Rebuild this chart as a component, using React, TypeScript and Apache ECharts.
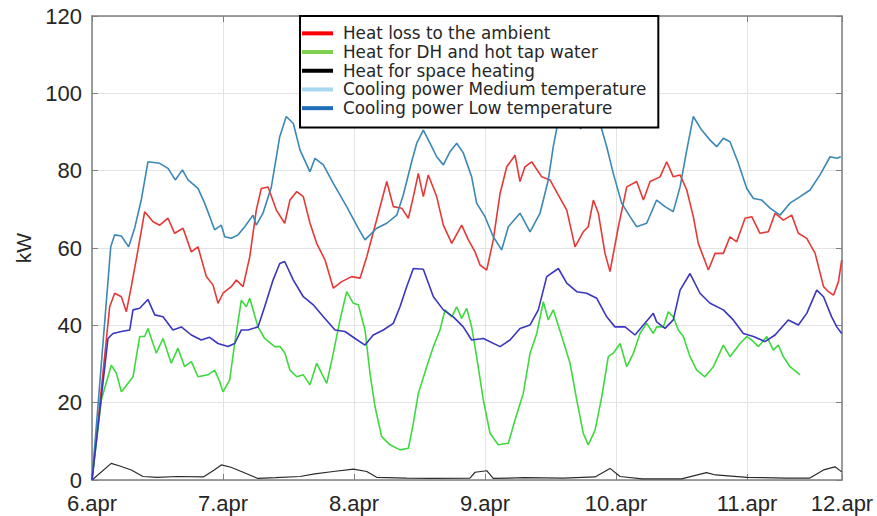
import React, { useEffect, useRef } from "react";
import * as echarts from "echarts";

// x values are days after 6.apr, y values in kW
const dayLabels = ["6.apr", "7.apr", "8.apr", "9.apr", "10.apr", "11.apr", "12.apr"];
const yTicks = { min: 0, max: 120, interval: 20 };
const xMax = 5.725;

const seriesNames = [
  "Heat loss to the ambient",
  "Heat for DH and hot tap water",
  "Heat for space heating",
  "Cooling power Medium temperature",
  "Cooling power Low temperature",
];

const heatLoss: [number, number][] = [
  [0, 0], [0.135, 44.8], [0.173, 48.3], [0.224, 47.4], [0.262, 43.5], [0.3, 50], [0.351, 59.5], [0.402, 69.4],
  [0.466, 66.8], [0.517, 65.9], [0.58, 67.7], [0.631, 63.8], [0.695, 65.1], [0.758, 59], [0.809, 60.3],
  [0.873, 52.6], [0.924, 50.4], [0.962, 45.7], [1.0, 48.3], [1.063, 50], [1.102, 51.7], [1.153, 50],
  [1.204, 57.7], [1.254, 69.8], [1.292, 75.4], [1.344, 75.8], [1.407, 69.8], [1.471, 66.4], [1.511, 72.4],
  [1.563, 74.6], [1.613, 73.3], [1.664, 66.4], [1.715, 61.2], [1.779, 56.9], [1.842, 49.6], [1.906, 51.3],
  [1.982, 52.6], [2.046, 52.2], [2.097, 57.7], [2.186, 69], [2.25, 77.2], [2.3, 70.7], [2.364, 70.3],
  [2.415, 67.7], [2.453, 73.3], [2.491, 79.3], [2.529, 73.3], [2.567, 78.9], [2.631, 73.3], [2.682, 65.9],
  [2.746, 61.2], [2.822, 65.9], [2.873, 62.1], [2.924, 59], [2.962, 55.6], [3.013, 54.3], [3.063, 62.1],
  [3.115, 74.1], [3.166, 81], [3.229, 84], [3.267, 77.2], [3.305, 81], [3.356, 82.3], [3.433, 78.4],
  [3.496, 77.6], [3.56, 73.7], [3.624, 69.8], [3.687, 60.3], [3.75, 64.2], [3.788, 65.5], [3.827, 72.4],
  [3.865, 69], [3.916, 58.6], [3.954, 53.9], [4.018, 65.5], [4.082, 75.8], [4.158, 77.2], [4.209, 72.4],
  [4.26, 77.2], [4.336, 78.4], [4.387, 82.3], [4.437, 78.4], [4.489, 78.9], [4.54, 75], [4.59, 68.1],
  [4.628, 61.2], [4.705, 54.3], [4.756, 58.6], [4.819, 58.6], [4.87, 62.9], [4.921, 61.6], [4.985, 67.7],
  [5.036, 68.1], [5.099, 63.8], [5.163, 64.2], [5.214, 69], [5.277, 67.2], [5.341, 68.5], [5.392, 63.8],
  [5.456, 62.5], [5.52, 58.6], [5.584, 50], [5.622, 48.7], [5.66, 47.8], [5.698, 51.3], [5.723, 56.9],
];

const heatDH: [number, number][] = [
  [0, 0], [0.071, 20.7], [0.147, 29.7], [0.186, 27.6], [0.224, 22.8], [0.275, 25], [0.313, 26.7], [0.364, 37.1],
  [0.402, 37.1], [0.427, 39.2], [0.491, 32.8], [0.542, 36.6], [0.605, 30.2], [0.656, 34.1], [0.707, 29.3],
  [0.758, 30.6], [0.809, 26.7], [0.885, 27.2], [0.936, 28.4], [0.975, 25.4], [1.0, 22.8], [1.051, 25.9],
  [1.089, 35.3], [1.14, 46.5], [1.178, 44.8], [1.204, 47], [1.267, 39.6], [1.318, 36.6], [1.395, 34.5],
  [1.435, 34.5], [1.473, 32.8], [1.511, 28.4], [1.563, 26.7], [1.613, 27.2], [1.664, 24.6], [1.715, 30.2],
  [1.753, 27.6], [1.792, 25], [1.842, 32.8], [1.893, 41.4], [1.944, 48.7], [1.995, 45.7], [2.033, 45.3],
  [2.084, 38.8], [2.122, 27.6], [2.16, 19], [2.211, 11.2], [2.275, 9.1], [2.351, 7.8], [2.415, 8.2],
  [2.453, 14.7], [2.491, 22.4], [2.555, 29.3], [2.606, 34.5], [2.656, 38.8], [2.695, 44], [2.746, 42.2],
  [2.784, 44.8], [2.822, 41.8], [2.86, 44.4], [2.898, 39.6], [2.936, 31.9], [2.987, 20.7], [3.038, 12.1],
  [3.101, 9.1], [3.178, 9.5], [3.229, 15.5], [3.292, 22.4], [3.344, 32.8], [3.395, 37.9], [3.445, 46.1],
  [3.483, 41.4], [3.521, 44], [3.586, 37.1], [3.649, 30.2], [3.7, 20.7], [3.75, 12.1], [3.788, 9.1],
  [3.84, 12.9], [3.891, 21.5], [3.941, 31.9], [3.979, 32.8], [4.031, 35.3], [4.082, 29.3], [4.133, 32.8],
  [4.183, 37.9], [4.234, 40.5], [4.285, 37.9], [4.31, 39.6], [4.361, 39.6], [4.399, 43.5], [4.437, 42.2],
  [4.475, 38.8], [4.514, 37.1], [4.565, 31.9], [4.616, 28.4], [4.679, 26.7], [4.743, 29.3], [4.819, 34.9],
  [4.87, 31.9], [4.947, 35.3], [4.998, 37.1], [5.036, 36.2], [5.087, 34.5], [5.151, 37.1], [5.201, 33.6],
  [5.239, 34.9], [5.277, 31.9], [5.328, 29.3], [5.405, 27.2],
];

const spaceHeating: [number, number][] = [
  [0, 0], [0.147, 4.3], [0.224, 3.5], [0.3, 2.6], [0.389, 0.9], [0.5, 0.7], [0.65, 0.9], [0.85, 0.8],
  [0.93, 2.5], [0.987, 3.9], [1.06, 3.3], [1.14, 2.2], [1.267, 0.4], [1.4, 0.6], [1.588, 0.9], [1.7, 1.6],
  [1.842, 2.2], [1.995, 2.8], [2.097, 2.2], [2.173, 0.7], [2.4, 0.5], [2.6, 0.4], [2.885, 0.5], [2.924, 2],
  [3.013, 2.4], [3.063, 0.4], [3.3, 0.6], [3.6, 0.5], [3.84, 0.8], [3.954, 3], [4.031, 0.9], [4.2, 0.3],
  [4.5, 0.3], [4.69, 1.9], [4.76, 1.3], [5.0, 0.7], [5.3, 0.5], [5.48, 0.5], [5.584, 2.6], [5.672, 3.4],
  [5.723, 2.1],
];

const coolingMedium: [number, number][] = [
  [0, 0], [0.143, 60.3], [0.173, 63.4], [0.224, 63.1], [0.28, 60.3], [0.326, 65.2], [0.376, 72.4], [0.427, 82.3],
  [0.517, 81.9], [0.58, 80.6], [0.636, 77.6], [0.69, 80.2], [0.733, 77.6], [0.809, 75.4], [0.86, 71.6],
  [0.936, 64.7], [0.987, 65.9], [1.013, 62.9], [1.063, 62.5], [1.115, 63.4], [1.166, 65.5], [1.229, 68.5],
  [1.254, 65.9], [1.305, 69], [1.369, 75.8], [1.433, 88.8], [1.483, 94], [1.537, 92.2], [1.588, 85.3],
  [1.664, 79.7], [1.702, 83.2], [1.766, 81.5], [1.842, 76.7], [1.944, 70.7], [2.033, 65.1], [2.084, 62.1],
  [2.173, 65.1], [2.25, 66.4], [2.326, 68.5], [2.376, 73.7], [2.44, 82.3], [2.479, 87.1], [2.529, 90.5],
  [2.58, 87.1], [2.631, 83.6], [2.682, 81.5], [2.733, 84.9], [2.784, 87.1], [2.834, 84.6], [2.898, 78.4],
  [2.936, 71.6], [3.0, 68.1], [3.063, 62.9], [3.127, 59.5], [3.178, 65.5], [3.267, 69], [3.344, 64.2],
  [3.42, 69], [3.483, 77.6], [3.521, 86.2], [3.56, 93.1], [3.62, 98], [3.68, 96], [3.73, 90.8], [3.78, 95],
  [3.83, 99], [3.878, 92.2], [3.929, 86.2], [3.979, 79.3], [4.043, 71.6], [4.107, 68.1], [4.158, 65.5],
  [4.234, 66.4], [4.31, 72.4], [4.374, 70.7], [4.437, 69.4], [4.489, 75.8], [4.54, 85.3], [4.59, 94],
  [4.654, 90.5], [4.718, 87.9], [4.769, 86.2], [4.819, 88.4], [4.87, 87.5], [4.934, 81.9], [4.998, 75.4],
  [5.049, 72.8], [5.112, 72.4], [5.176, 70.3], [5.252, 68.5], [5.328, 71.6], [5.405, 73.3], [5.481, 75],
  [5.557, 78.9], [5.634, 83.6], [5.685, 83.2], [5.716, 83.6],
];

const coolingLow: [number, number][] = [
  [0, 0], [0.122, 36.6], [0.16, 37.9], [0.224, 38.4], [0.288, 38.8], [0.313, 44], [0.364, 44.4], [0.427, 46.7],
  [0.479, 42.7], [0.542, 42.2], [0.618, 38.8], [0.682, 39.6], [0.758, 37.5], [0.834, 36.2], [0.898, 36.9],
  [0.962, 35.3], [1.038, 34.5], [1.089, 35.3], [1.14, 38.8], [1.191, 38.8], [1.267, 39.6], [1.318, 44.8],
  [1.382, 51.7], [1.433, 56], [1.471, 56.5], [1.537, 51.7], [1.613, 47.4], [1.689, 45.3], [1.766, 42.2],
  [1.855, 38.8], [1.931, 38.4], [2.008, 36.6], [2.084, 34.9], [2.147, 37.5], [2.224, 38.8], [2.3, 40.5],
  [2.351, 44.8], [2.402, 50], [2.453, 54.7], [2.529, 54.5], [2.606, 47.4], [2.682, 44], [2.758, 42.2],
  [2.834, 39.6], [2.898, 36.2], [2.987, 36.6], [3.115, 34.5], [3.191, 36.2], [3.267, 39.2], [3.344, 40.1],
  [3.407, 44], [3.471, 52.6], [3.56, 54.7], [3.624, 50.9], [3.7, 48.7], [3.776, 48.3], [3.853, 47],
  [3.929, 42.2], [3.992, 39.6], [4.069, 39.6], [4.145, 37.5], [4.209, 40.1], [4.285, 43.1], [4.31, 40.9],
  [4.374, 39.2], [4.437, 41.4], [4.489, 49.1], [4.565, 53.4], [4.641, 48.3], [4.718, 45.7], [4.819, 44],
  [4.895, 41.4], [4.972, 37.9], [5.049, 37.1], [5.137, 35.8], [5.214, 37.5], [5.315, 41.4], [5.392, 40.1],
  [5.456, 43.1], [5.532, 49.1], [5.584, 47.4], [5.646, 42.2], [5.685, 39.6], [5.723, 37.9],
];

const lineColors = ["#e53935", "#3fd93f", "#2b2b2b", "#3b87b6", "#3a36bd"];
const legendColors = ["#ff0000", "#80d050", "#000000", "#a6d8f0", "#1f6cb8"];
const seriesData = [heatLoss, heatDH, spaceHeating, coolingMedium, coolingLow];

const AXIS_COLOR = "#7f7f7f";
const TEXT_COLOR = "#262626";
const FONT = "'Liberation Sans', Arial, sans-serif";

export default function App() {
  const ref = useRef<HTMLDivElement>(null);
  useEffect(() => {
    if (!ref.current) return;
    const chart = echarts.init(ref.current, undefined, { renderer: "svg" });
    const xLabel = (v: number) => dayLabels[Math.round(v)] ?? "";
    chart.setOption({
      animation: false,
      backgroundColor: "#ffffff",
      grid: {
        left: 92,
        right: 35,
        top: 16,
        bottom: 36,
        containLabel: false,
        outerBoundsMode: "none",
      },
      legend: {
        orient: "vertical",
        left: 300,
        top: 16,
        padding: [8, 12, 10, 2],
        itemGap: 0,
        itemWidth: 31,
        itemHeight: 4,
        icon: "rect",
        selectedMode: false,
        backgroundColor: "#ffffff",
        borderColor: "#000000",
        borderWidth: 2,
        textStyle: {
          fontFamily: "'DejaVu Sans', sans-serif",
          fontSize: 16.8,
          color: TEXT_COLOR,
          lineHeight: 18.7,
          padding: [0, 0, 0, 5],
        },
        data: seriesNames.map((name, i) => ({
          name,
          itemStyle: { color: legendColors[i] },
        })),
      },
      xAxis: [
        {
          type: "value",
          min: 0,
          max: xMax,
          interval: 1,
          position: "bottom",
          axisLine: { show: true, onZero: false, lineStyle: { color: AXIS_COLOR, width: 1.5 } },
          axisTick: { show: true, inside: true, length: 6, lineStyle: { color: AXIS_COLOR } },
          axisLabel: {
            formatter: xLabel,
            color: TEXT_COLOR,
            fontFamily: FONT,
            fontSize: 22,
            lineHeight: 22,
            margin: 12,
          },
          splitLine: { show: true, lineStyle: { color: "#e3e3e3", width: 1 } },
        },
        {
          type: "value",
          min: 0,
          max: xMax,
          interval: 1,
          position: "top",
          axisLine: { show: true, onZero: false, lineStyle: { color: AXIS_COLOR, width: 1.5 } },
          axisTick: { show: true, inside: true, length: 6, lineStyle: { color: AXIS_COLOR } },
          axisLabel: { show: false },
          splitLine: { show: false },
        },
      ],
      yAxis: [
        {
          type: "value",
          min: yTicks.min,
          max: yTicks.max,
          interval: yTicks.interval,
          position: "left",
          name: "kW",
          nameLocation: "middle",
          nameGap: 56,
          nameTextStyle: { color: TEXT_COLOR, fontFamily: FONT, fontSize: 21 },
          axisLine: { show: true, onZero: false, lineStyle: { color: AXIS_COLOR, width: 1.5 } },
          axisTick: { show: true, inside: true, length: 6, lineStyle: { color: AXIS_COLOR } },
          axisLabel: { color: TEXT_COLOR, fontFamily: FONT, fontSize: 22, lineHeight: 17, margin: 10 },
          splitLine: { show: true, lineStyle: { color: "#e3e3e3", width: 1 } },
        },
        {
          type: "value",
          min: yTicks.min,
          max: yTicks.max,
          interval: yTicks.interval,
          position: "right",
          axisLine: { show: true, onZero: false, lineStyle: { color: AXIS_COLOR, width: 1.5 } },
          axisTick: { show: true, inside: true, length: 6, lineStyle: { color: AXIS_COLOR } },
          axisLabel: { show: false },
          splitLine: { show: false },
        },
      ],
      series: seriesNames.map((name, i) => ({
        name,
        type: "line",
        xAxisIndex: 0,
        yAxisIndex: 0,
        data: seriesData[i],
        showSymbol: false,
        symbol: "none",
        lineStyle: { color: lineColors[i], width: i === 2 ? 1.2 : 1.6 },
        itemStyle: { color: lineColors[i] },
        emphasis: { disabled: true },
        z: 2,
      })),
    });
    return () => chart.dispose();
  }, []);
  return (
    <div
      ref={ref}
      style={{ position: "fixed", left: 0, top: 0, width: 877, height: 516, background: "#fff" }}
    />
  );
}
